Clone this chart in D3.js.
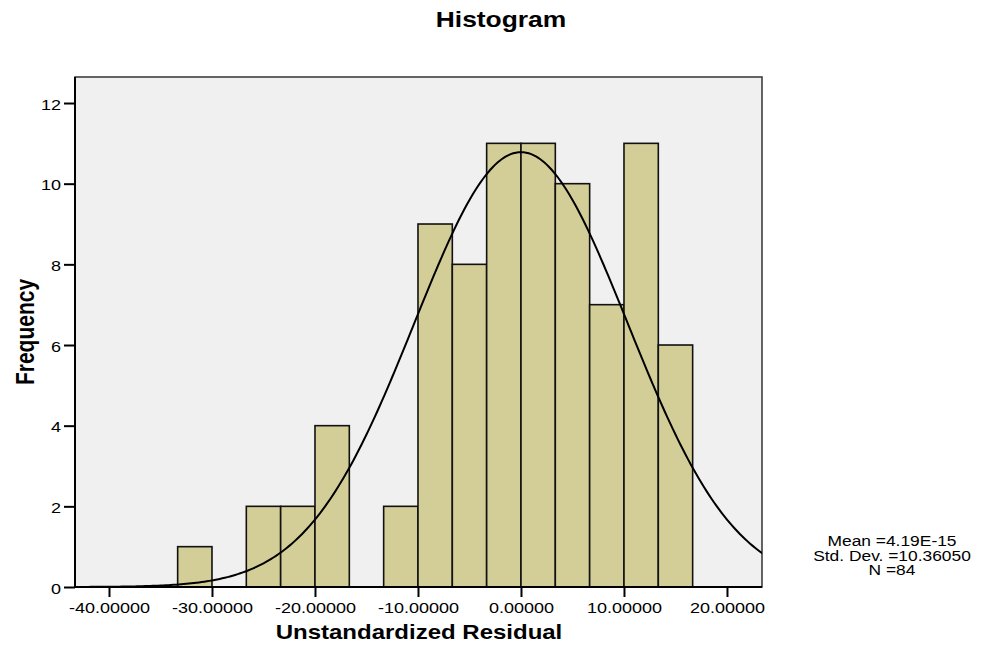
<!DOCTYPE html>
<html>
<head>
<meta charset="utf-8">
<script src="https://cdn.jsdelivr.net/npm/d3@7"></script>
<style>
  body { margin: 0; background: #fff; }
  text { font-family: "Liberation Sans", Arial, sans-serif; fill: #000; }
</style>
</head>
<body>
<div id="chart"></div>
<script>
// bins (lower edge, upper edge) and counts
var binLow  = [-33.3333, -26.6667, -23.3333, -20, -13.3333, -10, -6.6667, -3.3333, 0, 3.3333, 6.6667, 10, 13.3333];
var binHigh = [-30, -23.3333, -20, -16.6667, -10, -6.6667, -3.3333, 0, 3.3333, 6.6667, 10, 13.3333, 16.6667];
var counts  = [1, 2, 2, 4, 2, 9, 8, 11, 11, 10, 7, 11, 6];

var xTicks = [-40, -30, -20, -10, 0, 10, 20];
var yTicks = [0, 2, 4, 6, 8, 10, 12];

// stats shown in the legend
var statMean = 4.19e-15, statSd = 10.36050, statN = 84;
var statLines = ["Mean =4.19E-15", "Std. Dev. =10.36050", "N =84"];

var W = 982, H = 648;
var plot = {left: 75, right: 762, top: 77, bottom: 587};
var sx = 1.2; // horizontal stretch of the original text

var svg = d3.select("#chart").append("svg")
  .attr("width", W)
  .attr("height", H);

var x = d3.scaleLinear()
  .domain([-43.3, 23.4])
  .range([plot.left, plot.right]);

var y = d3.scaleLinear()
  .domain([0, 12.645])
  .range([plot.bottom, plot.top]);

// plot background
svg.append("rect")
  .attr("x", plot.left)
  .attr("y", plot.top)
  .attr("width", plot.right - plot.left)
  .attr("height", plot.bottom - plot.top)
  .attr("fill", "#f0f0f0")
  .attr("stroke", "#333")
  .attr("stroke-width", 1.5);

svg.append("clipPath").attr("id", "clip")
  .append("rect")
  .attr("x", plot.left)
  .attr("y", plot.top)
  .attr("width", plot.right - plot.left)
  .attr("height", plot.bottom - plot.top);

// bars
svg.selectAll(".bar").data(counts).enter()
  .append("rect")
  .attr("class", "bar")
  .attr("x", function(d, i) { return x(binLow[i]); })
  .attr("width", function(d, i) { return x(binHigh[i]) - x(binLow[i]); })
  .attr("y", function(d) { return y(d); })
  .attr("height", function(d) { return y(0) - y(d); })
  .attr("fill", "#d3ce97")
  .attr("stroke", "#111")
  .attr("stroke-width", 1.6);

// normal curve from the legend stats
var bw = binHigh[0] - binLow[0];
var curvePts = d3.range(-44, 24.01, 0.25).map(function(v) {
  var z = (v - statMean) / statSd;
  return [v, statN * bw * Math.exp(-0.5 * z * z) / (statSd * Math.sqrt(2 * Math.PI))];
});

var line = d3.line()
  .x(function(d) { return x(d[0]); })
  .y(function(d) { return y(d[1]); });

svg.append("path")
  .datum(curvePts)
  .attr("clip-path", "url(#clip)")
  .attr("d", line)
  .attr("fill", "none")
  .attr("stroke", "#000")
  .attr("stroke-width", 2);

// axes
var xAxis = d3.axisBottom(x).tickValues(xTicks).tickSize(10).tickPadding(4)
  .tickFormat(function(d) { return d.toFixed(5); });
var yAxis = d3.axisLeft(y).tickValues(yTicks).tickSize(11).tickPadding(3)
  .tickFormat(d3.format("d"));

var gx = svg.append("g")
  .attr("transform", "translate(0," + plot.bottom + ")")
  .call(xAxis);
var gy = svg.append("g")
  .attr("transform", "translate(" + plot.left + ",0)")
  .call(yAxis);

[gx, gy].forEach(function(g) {
  g.select(".domain").attr("stroke", "#000").attr("stroke-width", 2);
  g.selectAll(".tick line").attr("stroke", "#000").attr("stroke-width", 2);
  g.selectAll(".tick text")
    .attr("font-size", 15)
    .attr("font-family", "'Liberation Sans', Arial, sans-serif")
    .attr("fill", "#000");
});
gx.select(".domain").attr("d", "M" + plot.left + ",0H" + plot.right);
gy.select(".domain").attr("d", "M0," + plot.top + "V" + plot.bottom);

// stretch tick labels horizontally around their anchor
gx.selectAll(".tick text")
  .attr("dy", null)
  .attr("y", 0)
  .attr("transform", "translate(0,26) scale(" + sx + ",1)");
gy.selectAll(".tick text")
  .attr("dy", null)
  .attr("x", 0)
  .attr("transform", "translate(-14,6) scale(" + sx + ",1)");

// titles
svg.append("text")
  .attr("transform", "translate(501,27) scale(" + sx + ",1)")
  .attr("text-anchor", "middle")
  .attr("font-size", 22)
  .attr("font-weight", "bold")
  .text("Histogram");

svg.append("text")
  .attr("transform", "translate(419,639) scale(" + sx + ",1)")
  .attr("text-anchor", "middle")
  .attr("font-size", 20)
  .attr("font-weight", "bold")
  .text("Unstandardized Residual");

svg.append("text")
  .attr("transform", "translate(34,332) rotate(-90) scale(1," + sx + ")")
  .attr("text-anchor", "middle")
  .attr("font-size", 21)
  .attr("font-weight", "bold")
  .text("Frequency");

// legend stats
svg.selectAll(".stat").data(statLines).enter()
  .append("text")
  .attr("class", "stat")
  .attr("transform", function(d, i) { return "translate(892," + (546 + i * 14.6) + ") scale(" + sx + ",1)"; })
  .attr("text-anchor", "middle")
  .attr("font-size", 14.5)
  .text(function(d) { return d; });
</script>
</body>
</html>
